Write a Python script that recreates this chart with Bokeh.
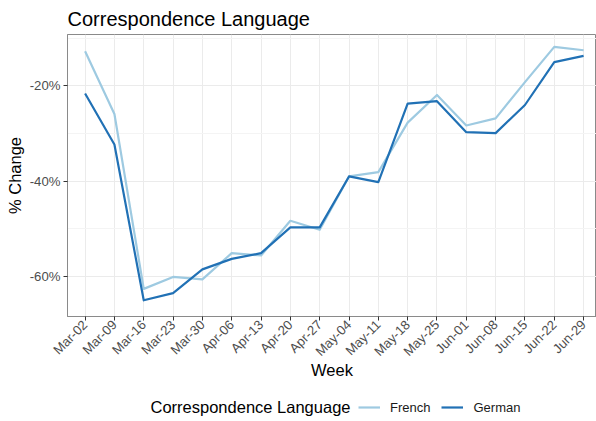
from bokeh.plotting import figure
from bokeh.models import (Range1d, FixedTicker, Legend, LegendItem, Label)
from bokeh.layouts import column
from bokeh.embed import file_html
from bokeh.resources import INLINE
import math

weeks = ["Mar-02", "Mar-09", "Mar-16", "Mar-23", "Mar-30", "Apr-06", "Apr-13",
         "Apr-20", "Apr-27", "May-04", "May-11", "May-18", "May-25", "Jun-01",
         "Jun-08", "Jun-15", "Jun-22", "Jun-29"]
french = [-12.7, -25.9, -62.6, -60.1, -60.6, -55.1, -55.6, -48.3, -50.2,
          -39.0, -38.1, -27.7, -21.9, -28.3, -26.8, -19.2, -11.8, -12.5]
german = [-21.6, -32.3, -65.0, -63.5, -58.5, -56.3, -55.1, -49.7, -49.7,
          -39.0, -40.2, -23.7, -23.2, -29.7, -29.9, -24.0, -15.0, -13.7]
y_major = [-60, -40, -20]
y_minor = [-50, -30, -10]
series_names = ["French", "German"]
series_values = [french, german]
colors = ["#9ecae1", "#2171b5"]
legend_title = "Correspondence Language"

FONT = "Liberation Sans"
x = list(range(len(weeks)))

p = figure(width=596, height=392, output_backend="svg", toolbar_location=None,
           x_range=Range1d(-0.6, len(weeks) - 1 + 0.44),
           y_range=Range1d(-68.4, -9.2),
           min_border_left=67, min_border_right=0, min_border_bottom=76,
           min_border_top=32)

p.title.text = "Correspondence Language"
p.title.text_font = FONT
p.title.text_font_size = "20px"
p.title.text_font_style = "normal"
p.title.text_color = "#000000"
p.title.standoff = 10
p.title.offset = 0

for vals, c in zip(series_values, colors):
    p.line(x, vals, line_color=c, line_width=2.2, line_join="round")

p.background_fill_color = "white"
p.border_fill_color = "white"
p.outline_line_color = "#8a8a8a"
p.outline_line_width = 1

# x axis
p.xaxis.ticker = FixedTicker(ticks=x)
p.xaxis.major_label_overrides = {i: w for i, w in enumerate(weeks)}
p.xaxis.major_label_orientation = math.pi / 4
p.xaxis.axis_label = "Week"
p.xaxis.minor_tick_line_color = None

# y axis
p.yaxis.ticker = FixedTicker(ticks=y_major, minor_ticks=y_minor)
p.yaxis.major_label_overrides = {v: f"{v}%" for v in y_major}
p.yaxis.axis_label = "% Change"
p.yaxis.minor_tick_line_color = None

for ax in [p.xaxis[0], p.yaxis[0]]:
    ax.axis_line_color = "#8a8a8a"
    ax.axis_line_width = 1
    ax.major_tick_line_color = "#333333"
    ax.major_tick_out = 4
    ax.major_tick_in = 0
    ax.major_label_text_font = FONT
    ax.major_label_text_font_size = "13.2px"
    ax.major_label_text_color = "#4d4d4d"
    ax.axis_label_text_font = FONT
    ax.axis_label_text_font_size = "16.5px"
    ax.axis_label_text_font_style = "normal"
    ax.axis_label_text_color = "#000000"
p.xaxis.major_label_standoff = 2
p.yaxis.major_label_standoff = 3
p.xaxis.axis_label_standoff = -6
p.yaxis.axis_label_standoff = 3

p.xgrid.grid_line_color = "#ebebeb"
p.ygrid.grid_line_color = "#ebebeb"
p.ygrid.minor_grid_line_color = "#f4f4f4"

# legend strip (keys are proxies of the two series, kept outside its view)
pl = figure(width=596, height=29, output_backend="svg", toolbar_location=None,
            x_range=Range1d(0, 1), y_range=Range1d(0, 1), title=None,
            x_axis_location=None, y_axis_location=None, min_border=0)
pl.grid.visible = False
pl.outline_line_color = None
pl.background_fill_color = "white"
pl.border_fill_color = "white"
keys = [pl.line(x, vals, line_color=c, line_width=2.2)
        for vals, c in zip(series_values, colors)]
legend = Legend(items=[LegendItem(label=n, renderers=[r]) for n, r in zip(series_names, keys)],
                orientation="horizontal", location=(291, 6),
                padding=0, margin=0, spacing=11, label_standoff=10,
                glyph_width=22, glyph_height=16, label_height=16,
                border_line_color=None, background_fill_alpha=0,
                label_text_font=FONT, label_text_font_size="13px",
                label_text_color="#1a1a1a")
pl.add_layout(legend, "center")
pl.add_layout(Label(x=83, y=14.5, x_units="screen", y_units="screen",
                    text=legend_title, text_font=FONT, text_font_size="16.5px",
                    text_baseline="middle", text_color="#000000"))

layout = column(p, pl, spacing=0)
open("out.html", "w").write(file_html(layout, INLINE))
